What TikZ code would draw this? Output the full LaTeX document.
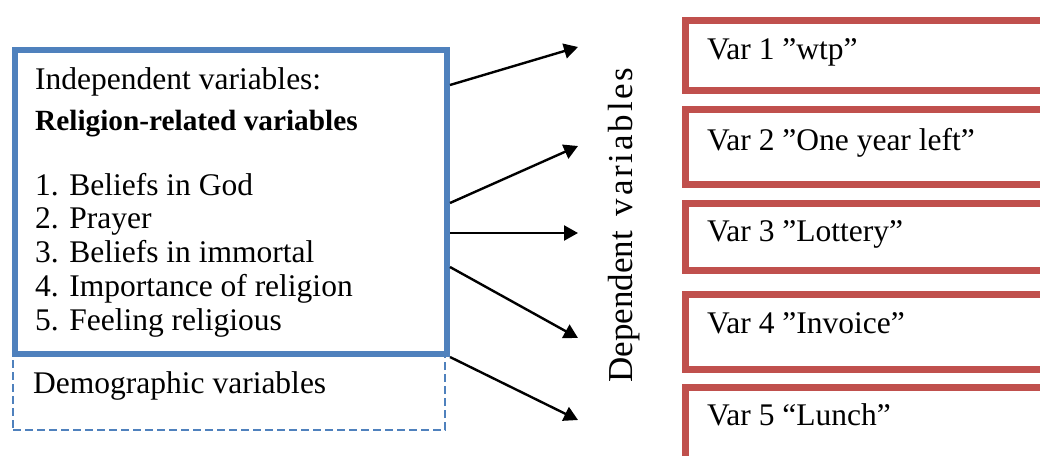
\documentclass[tikz,border=0pt]{standalone}
\usepackage{fontspec}
\setmainfont{Liberation Serif}
\usetikzlibrary{arrows.meta}
\definecolor{oblue}{HTML}{4F81BD}
\definecolor{ored}{HTML}{C0504D}
\begin{document}
\begin{tikzpicture}[x=1pt,y=-1pt,
  txt/.style={font=\fontsize{31.5}{36}\selectfont, anchor=base west, inner sep=0pt},
  boldtxt/.style={font=\fontsize{29.3}{34}\selectfont\bfseries, anchor=base west, inner sep=0pt},
  arr/.style={line width=2.4pt, -{Triangle[length=14pt,width=15pt]}},
  redbox/.style={draw=ored, line width=6.5pt, anchor=north west, inner sep=0pt, minimum width=420pt},
  bluebox/.style={draw=oblue, line width=6pt, anchor=north west, inner sep=0pt, minimum width=432pt},
  dashbox/.style={draw=oblue, line width=2.2pt, dash pattern=on 8pt off 4pt, anchor=north west, inner sep=0pt, minimum width=432pt},
]
\useasboundingbox (0,0) rectangle (1040,455);
\clip (0,0) rectangle (1040,455);
\fill[white] (0,0) rectangle (1040,455);

% left boxes
\node[dashbox, minimum height=77pt] (demo) at (12,352) {};
\node[bluebox, minimum height=304pt] (indep) at (12,47) {};

\node[txt] (t0) at (35,89) {Independent variables:};
\node[boldtxt] (tb) at (35,130) {Religion-related variables};
\node[txt] (l1) at (35,195) {1. Beliefs in God};
\node[txt] (l2) at (35,228) {2. Prayer};
\node[txt] (l3) at (35,262) {3. Beliefs in immortal};
\node[txt] (l4) at (35,296) {4. Importance of religion};
\node[txt] (l5) at (35,330) {5. Feeling religious};
\node[txt] (dt) at (33,393) {Demographic variables};

% right boxes
\node[redbox, minimum height=70pt] (b1) at (682,17) {};
\node[redbox, minimum height=75pt] (b2) at (682,106) {};
\node[redbox, minimum height=67pt] (b3) at (682,200) {};
\node[redbox, minimum height=75pt] (b4) at (682,291) {};
\node[redbox, minimum height=75pt] (b5) at (682,384) {};

\node[txt] (v1) at (707,59) {Var 1 ”wtp”};
\node[txt] (v2) at (707,150) {Var 2 ”One year left”};
\node[txt] (v3) at (707,241) {Var 3 ”Lottery”};
\node[txt] (v4) at (707,333) {Var 4 ”Invoice”};
\node[txt] (v5) at (707,425) {Var 5 “Lunch”};

% dependent label
\node[font=\fontsize{35}{40}\selectfont, anchor=base west, inner sep=0pt, rotate=90] (dep) at (632,383)
  {Dependent\hspace{15pt}{\addfontfeature{LetterSpace=8}variables}};

% arrows
\coordinate (s1) at ([yshift=-38pt]indep.north east);
\coordinate (s2) at ([yshift=-156pt]indep.north east);
\coordinate (s3) at ([yshift=-186pt]indep.north east);
\coordinate (s4) at ([yshift=-220pt]indep.north east);
\coordinate (s5) at (indep.south east);
\coordinate (e1) at (578,47);
\coordinate (e2) at (578,146);
\coordinate (e3) at (578,233);
\coordinate (e4) at (578,338);
\coordinate (e5) at (578,420);
\draw[arr] (s1) -- (e1);
\draw[arr] (s2) -- (e2);
\draw[arr] (s3) -- (e3);
\draw[arr] (s4) -- (e4);
\draw[arr] (s5) -- (e5);
\end{tikzpicture}
\end{document}
